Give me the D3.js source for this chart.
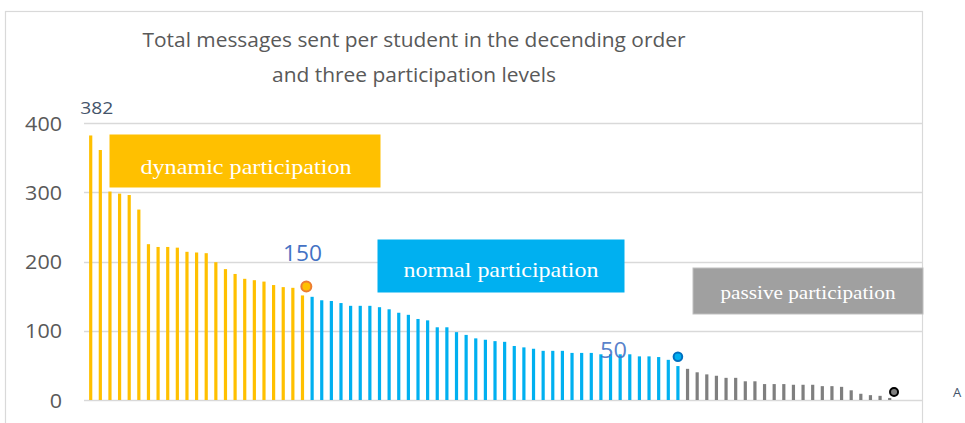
<!DOCTYPE html>
<html><head><meta charset="utf-8">
<script src="https://cdn.jsdelivr.net/npm/d3@7/dist/d3.min.js"></script>
<style>body{margin:0;background:#fff;overflow:hidden}svg{display:block}</style>
</head><body><svg id="c" width="965" height="423"></svg>
<script>
// ---- data ----
const dynamicValues = [382,361,301,298,296,275,225,221,221,220,214,213,212,199,189,182,175,173,171,166,163,162,151];
const normalValues  = [149,144,143,140,136,136,136,134,131,126,123,117,115,105,105,98,94,89,87,85,84,78,76,74,71,71,71,68,68,68,66,66,66,66,63,63,62,58,49];
const passiveValues = [45,40,37,35,32,32,27,27,23,23,23,22,22,22,20,20,19,14,9,7,6,3];
const levelNames = ["dynamic participation","normal participation","passive participation"];
const markerIndex = [23.4, 62, 84.45];
const markerValue = [164, 62.5, 11.5];
const yTicks = [0,100,200,300,400];
const titleLines = ["Total messages sent per student in the decending order","and three participation levels"];

const colors = ["#FFC000","#00B0F0","#7F7F7F"];
const svg = d3.select("#c");

const all = [];
[dynamicValues, normalValues, passiveValues].forEach((arr, li) => arr.forEach(v => all.push({v, level: li})));
all.forEach((d, i) => d.i = i + 1);

const x = d3.scaleLinear().domain([1, all.length]).range([90.7, 889.7]);
const y = d3.scaleLinear().domain([0, 400]).range([400, 123]);

// border
svg.append("rect").attr("x",5.5).attr("y",11.5).attr("width",917).attr("height",430)
  .attr("fill","none").attr("stroke","#D9D9D9").attr("stroke-width",1.2);

// title
svg.selectAll("text.title").data(titleLines).join("text")
  .attr("x", 414).attr("y", (d,i) => 47 + i*35)
  .attr("text-anchor","middle").attr("font-family","Open Sans, sans-serif")
  .attr("font-size",20).attr("fill","#595959")
  .attr("textLength",(d,i)=> i===0 ? 543 : 284).attr("lengthAdjust","spacingAndGlyphs")
  .text(d => d);

// gridlines
svg.append("g").selectAll("line").data(yTicks).join("line")
  .attr("x1",84).attr("x2",922).attr("y1",d=>Math.round(y(d))+0.5).attr("y2",d=>Math.round(y(d))+0.5)
  .attr("stroke","#D9D9D9").attr("stroke-width",1.5);

// y axis labels
const yAxis = d3.axisLeft(y).tickValues(yTicks).tickSize(0).tickPadding(0);
const gy = svg.append("g").attr("transform","translate(62,0)").call(yAxis);
gy.select(".domain").remove();
gy.selectAll("text").attr("font-family","Open Sans, sans-serif").attr("font-size",20)
  .attr("fill","#595959").attr("dy","0.35em")
  .attr("textLength", d => String(d).length*12.3).attr("lengthAdjust","spacingAndGlyphs");

// bars
svg.append("g").selectAll("rect").data(all).join("rect")
  .attr("x", d => x(d.i) - 1.6).attr("width", 3.2)
  .attr("y", d => y(d.v)).attr("height", d => y(0) - y(d.v))
  .attr("fill", d => colors[d.level]);

// markers
const markerStyles = [
  {fill:"#FFC000", stroke:"#ED7D31", r:5},
  {fill:"#00B0F0", stroke:"#0070C0", r:4.3},
  {fill:"#7F7F7F", stroke:"#000000", r:4}
];
svg.append("g").selectAll("circle").data(markerIndex).join("circle")
  .attr("cx",(d)=>x(d)).attr("cy",(d,i)=>y(markerValue[i]))
  .attr("r",(d,i)=>markerStyles[i].r).attr("fill",(d,i)=>markerStyles[i].fill)
  .attr("stroke",(d,i)=>markerStyles[i].stroke).attr("stroke-width",2);

// value annotations
svg.append("text").attr("x", x(1) - 10.5).attr("y", y(dynamicValues[0]) - 21)
  .attr("font-family","Open Sans, sans-serif").attr("font-size",17)
  .attr("textLength",33).attr("lengthAdjust","spacingAndGlyphs")
  .attr("fill","#44546A").text(dynamicValues[0]);
svg.append("text").attr("x", x(dynamicValues.length)).attr("y", y(dynamicValues[dynamicValues.length-1]) - 34)
  .attr("text-anchor","middle").attr("font-family","Open Sans, sans-serif").attr("font-size",21)
  .attr("textLength",39).attr("lengthAdjust","spacingAndGlyphs")
  .attr("fill","#4472C4").text("150");
svg.append("text").attr("x", x(55.3)).attr("y", y(normalValues[normalValues.length-1]) - 8)
  .attr("text-anchor","middle").attr("font-family","Open Sans, sans-serif").attr("font-size",22)
  .attr("textLength",27).attr("lengthAdjust","spacingAndGlyphs")
  .attr("fill","#4472C4").attr("fill-opacity",0.9).text("50");

// level boxes
const boxes = [
  {x:110, y:135, w:270, h:52, fs:22, tl:211, base:39, fill:"#FFC000", stroke:"#FFC000"},
  {x:378, y:240, w:246, h:52, fs:22, tl:195, base:37, fill:"#00B0F0", stroke:"#00B0F0"},
  {x:693, y:268, w:230, h:46, fs:18, tl:175, base:31, fill:"#A0A0A0", stroke:"#BFBFBF"}
];
const gb = svg.append("g").selectAll("g").data(levelNames).join("g");
gb.append("rect").attr("x",(d,i)=>boxes[i].x).attr("y",(d,i)=>boxes[i].y)
  .attr("width",(d,i)=>boxes[i].w).attr("height",(d,i)=>boxes[i].h)
  .attr("fill",(d,i)=>boxes[i].fill).attr("stroke",(d,i)=>boxes[i].stroke);
gb.append("text").attr("x",(d,i)=>boxes[i].x+boxes[i].w/2 - (i===0?-1:0))
  .attr("y",(d,i)=>boxes[i].y+boxes[i].base)
  .attr("text-anchor","middle").attr("font-family","Liberation Serif, serif")
  .attr("font-size",(d,i)=>boxes[i].fs).attr("fill","#fff")
  .attr("textLength",(d,i)=>boxes[i].tl).attr("lengthAdjust","spacingAndGlyphs")
  .text(d=>d);

// edge glyph
svg.append("text").attr("x",953).attr("y",397).attr("font-family","Open Sans, sans-serif")
  .attr("font-size",13).attr("fill","#44546A").text("A");
</script></body></html>
